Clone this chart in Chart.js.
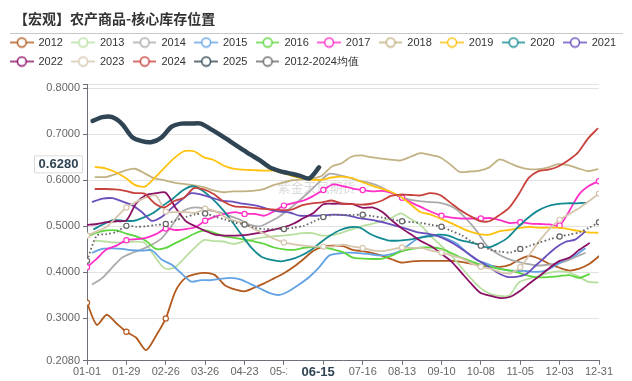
<!DOCTYPE html>
<html><head><meta charset="utf-8">
<script src="https://cdn.jsdelivr.net/npm/chart.js@4.4.1/dist/chart.umd.min.js"></script>
<style>html,body{margin:0;padding:0;background:#fff}</style>
</head><body>
<canvas id="c" width="632" height="381"></canvas>
<script>
// ---- data ----
const tickDays   = [0,28,56,84,112,140,168,196,224,252,280,308,336,364];
const tickLabels = ['01-01','01-29','02-26','03-26','04-23','05-21','06-18','07-16','08-13','09-10','10-08','11-05','12-03','12-31'];
const yTickValues = [0.208,0.3,0.4,0.5,0.6,0.7,0.8];
const seriesNames = ['2012','2013','2014','2015','2016','2017','2018','2019','2020','2021','2022','2023','2024','2025','2012-2024均值'];
// first weekly observation (day of year, 0 = 01-01)
const startDays = [0,6,4,4,0,0,6,6,5,4,0,0,6,4,0];
const pointerDay = 165;      // 06-15
const pointerDayLabel = '06-15';
const pointerValue = 0.628;  // latest 2025 value

const s2012 = [0.334,0.286,0.308,0.289,0.271,0.258,0.231,0.262,0.300,0.360,0.388,0.396,0.399,0.394,0.372,0.363,0.359,0.367,0.376,0.387,0.398,0.412,0.429,0.447,0.456,0.458,0.457,0.449,0.446,0.442,0.436,0.428,0.421,0.424,0.425,0.425,0.425,0.425,0.423,0.419,0.414,0.414,0.412,0.417,0.429,0.436,0.429,0.418,0.410,0.404,0.408,0.418,0.435];
const s2013 = [0.469,0.467,0.465,0.465,0.467,0.464,0.435,0.409,0.410,0.430,0.452,0.470,0.468,0.467,0.462,0.467,0.472,0.476,0.478,0.480,0.482,0.485,0.485,0.480,0.481,0.486,0.493,0.500,0.505,0.511,0.518,0.528,0.516,0.503,0.480,0.460,0.440,0.415,0.390,0.368,0.354,0.349,0.349,0.378,0.386,0.392,0.399,0.402,0.400,0.392,0.380,0.378];
const s2014 = [0.374,0.388,0.411,0.432,0.442,0.450,0.460,0.474,0.500,0.530,0.540,0.540,0.534,0.530,0.522,0.514,0.503,0.500,0.510,0.522,0.538,0.556,0.575,0.596,0.614,0.611,0.606,0.599,0.595,0.588,0.577,0.566,0.559,0.555,0.553,0.552,0.547,0.536,0.515,0.490,0.459,0.442,0.431,0.424,0.419,0.415,0.416,0.419,0.424,0.433,0.442];
const s2015 = [0.443,0.451,0.452,0.451,0.448,0.447,0.448,0.428,0.417,0.398,0.380,0.383,0.383,0.386,0.388,0.385,0.375,0.365,0.355,0.351,0.360,0.374,0.390,0.411,0.436,0.441,0.443,0.442,0.440,0.437,0.438,0.444,0.458,0.473,0.480,0.480,0.473,0.462,0.443,0.427,0.419,0.410,0.405,0.403,0.403,0.401,0.404,0.415,0.428,0.437,0.452];
const s2016 = [0.478,0.486,0.491,0.491,0.484,0.478,0.468,0.451,0.453,0.464,0.474,0.485,0.491,0.485,0.478,0.475,0.471,0.467,0.462,0.454,0.450,0.449,0.453,0.455,0.455,0.450,0.444,0.432,0.430,0.429,0.430,0.437,0.446,0.451,0.454,0.454,0.451,0.442,0.432,0.424,0.417,0.412,0.407,0.404,0.398,0.392,0.389,0.390,0.392,0.394,0.388,0.396];
const s2017 = [0.411,0.430,0.450,0.458,0.470,0.472,0.475,0.483,0.495,0.492,0.494,0.498,0.512,0.521,0.527,0.531,0.527,0.527,0.523,0.533,0.545,0.551,0.556,0.566,0.579,0.591,0.587,0.582,0.579,0.576,0.577,0.572,0.562,0.551,0.541,0.531,0.523,0.519,0.517,0.517,0.517,0.518,0.513,0.507,0.509,0.506,0.505,0.504,0.502,0.534,0.570,0.588,0.598];
const s2018 = [0.607,0.607,0.613,0.621,0.625,0.615,0.604,0.600,0.595,0.592,0.589,0.585,0.578,0.574,0.576,0.576,0.577,0.580,0.589,0.595,0.600,0.602,0.604,0.610,0.630,0.637,0.651,0.654,0.650,0.647,0.645,0.643,0.651,0.659,0.655,0.650,0.635,0.618,0.619,0.621,0.628,0.645,0.638,0.629,0.624,0.624,0.628,0.635,0.633,0.626,0.620,0.624];
const s2019 = [0.629,0.626,0.618,0.606,0.590,0.586,0.605,0.627,0.648,0.663,0.663,0.650,0.644,0.632,0.625,0.623,0.622,0.621,0.621,0.616,0.609,0.604,0.601,0.601,0.606,0.608,0.605,0.597,0.589,0.582,0.575,0.564,0.548,0.531,0.526,0.517,0.508,0.498,0.489,0.483,0.482,0.489,0.492,0.496,0.499,0.497,0.497,0.497,0.494,0.490,0.487,0.486];
const s2020 = [0.494,0.505,0.514,0.512,0.512,0.519,0.529,0.545,0.560,0.578,0.587,0.578,0.560,0.538,0.511,0.481,0.453,0.434,0.427,0.424,0.428,0.436,0.448,0.465,0.480,0.492,0.498,0.497,0.484,0.475,0.469,0.469,0.471,0.475,0.478,0.482,0.480,0.471,0.466,0.461,0.454,0.462,0.475,0.497,0.517,0.533,0.543,0.548,0.550,0.550,0.551];
const s2021 = [0.553,0.560,0.561,0.554,0.546,0.531,0.512,0.520,0.539,0.557,0.572,0.569,0.563,0.556,0.554,0.550,0.547,0.543,0.536,0.532,0.530,0.523,0.523,0.523,0.525,0.525,0.523,0.518,0.515,0.511,0.506,0.500,0.494,0.487,0.484,0.479,0.470,0.458,0.443,0.428,0.415,0.401,0.391,0.390,0.396,0.415,0.434,0.453,0.466,0.471,0.488];
const s2022 = [0.503,0.505,0.509,0.511,0.513,0.550,0.568,0.572,0.573,0.540,0.512,0.500,0.490,0.482,0.480,0.480,0.481,0.484,0.488,0.493,0.498,0.506,0.518,0.529,0.548,0.549,0.549,0.548,0.540,0.541,0.531,0.512,0.495,0.481,0.467,0.456,0.440,0.424,0.400,0.376,0.355,0.349,0.344,0.347,0.360,0.377,0.393,0.410,0.425,0.432,0.449,0.463];
const s2023 = [0.480,0.489,0.499,0.520,0.541,0.553,0.563,0.567,0.532,0.531,0.531,0.529,0.538,0.533,0.520,0.512,0.505,0.494,0.484,0.473,0.465,0.461,0.458,0.456,0.456,0.456,0.460,0.456,0.453,0.448,0.446,0.450,0.454,0.453,0.453,0.447,0.443,0.437,0.431,0.420,0.412,0.408,0.400,0.398,0.411,0.440,0.470,0.495,0.514,0.527,0.540,0.555,0.571];
const s2024 = [0.581,0.581,0.580,0.577,0.572,0.571,0.550,0.541,0.555,0.562,0.583,0.580,0.570,0.554,0.544,0.542,0.540,0.538,0.537,0.535,0.537,0.546,0.550,0.552,0.556,0.550,0.548,0.547,0.549,0.555,0.566,0.569,0.568,0.567,0.572,0.568,0.552,0.536,0.523,0.512,0.511,0.524,0.540,0.570,0.605,0.620,0.623,0.630,0.643,0.660,0.690,0.712];
const s2025 = [0.729,0.737,0.737,0.722,0.694,0.685,0.683,0.693,0.716,0.723,0.723,0.723,0.711,0.698,0.684,0.670,0.656,0.643,0.628,0.620,0.615,0.610,0.604,0.628];
const sAvg  = [0.425,0.480,0.483,0.488,0.501,0.499,0.500,0.503,0.505,0.513,0.520,0.526,0.528,0.521,0.515,0.508,0.504,0.497,0.494,0.494,0.494,0.497,0.501,0.510,0.520,0.525,0.525,0.525,0.525,0.522,0.519,0.515,0.511,0.509,0.507,0.503,0.499,0.490,0.481,0.468,0.458,0.449,0.445,0.443,0.451,0.458,0.465,0.472,0.478,0.482,0.487,0.497,0.509];

const seriesValues = [s2012,s2013,s2014,s2015,s2016,s2017,s2018,s2019,s2020,s2021,s2022,s2023,s2024,s2025,sAvg];

// ---- styles ----
const colors = ['#b35a1f','#b9dfa0','#aaaaaa','#63a3e3','#5cd63c','#ff2fc8','#c2b283','#ffc20e','#138a92','#6a4fbc','#8b1066','#d6c6ad','#c8423d','#2f4554','#666666'];
const lineWidths = [1.8,1.8,1.8,1.8,1.8,1.8,1.8,1.8,1.8,1.8,1.8,1.8,1.8,4.5,1.8];
const markerTicks = [3,0,0,0,0,99,0,0,0,0,0,99,0,0,99];
const legendPerRow = 10;

function legendIcon(color){
  const c = document.createElement('canvas');
  c.width = 24; c.height = 12;
  const g = c.getContext('2d');
  g.strokeStyle = color; g.lineWidth = 1.5;
  g.beginPath(); g.moveTo(0,6); g.lineTo(24,6); g.stroke();
  g.fillStyle = '#fff';
  g.beginPath(); g.arc(12,6,4.5,0,Math.PI*2); g.fill(); g.stroke();
  return c;
}
const icons = colors.map(legendIcon);

const n = seriesNames.length;
const datasets = seriesNames.map((name,i)=>({
  label: name,
  data: seriesValues[i].map((v,k)=>({x: startDays[i] + 7*k, y: v})),
  borderColor: colors[i],
  backgroundColor: colors[i],
  borderWidth: lineWidths[i],
  borderDash: i === n-1 ? [1.6,2.4] : [],
  borderJoinStyle: 'round',
  borderCapStyle: i === n-1 ? 'butt' : 'round',
  tension: 0.25,
  fill: false,
  order: n - i,
  pointRadius: (ctx)=>{ const k = ctx.dataIndex; return (markerTicks[i] && k % 4 === 0 && k/4 < markerTicks[i]) ? 2.6 : 0; },
  pointBackgroundColor: '#fff',
  pointBorderColor: colors[i],
  pointBorderWidth: 1.2
}));

const decor = {
  id: 'decor',
  beforeDatasetsDraw(chart){
    const {ctx, chartArea: a} = chart;
    ctx.save();
    ctx.font = '13px "Noto Sans CJK SC"';
    ctx.fillStyle = 'rgba(150,150,150,0.35)';
    ctx.textAlign = 'center'; ctx.textBaseline = 'middle';
    ctx.fillText('紫金天风期货', a.left + (a.right - a.left)*0.448, a.top + (a.bottom - a.top)*0.373);
    ctx.restore();
  },
  afterDraw(chart){
    const {ctx} = chart;
    ctx.save();
    // title
    ctx.font = 'bold 14px "Noto Sans CJK SC"';
    ctx.fillStyle = '#333';
    ctx.textAlign = 'left'; ctx.textBaseline = 'middle';
    ctx.fillText('【宏观】农产商品-核心库存位置', 14, 19);
    ctx.strokeStyle = '#c8c8c8'; ctx.lineWidth = 1;
    ctx.beginPath(); ctx.moveTo(10, 33.5); ctx.lineTo(623, 33.5); ctx.stroke();
    // legend
    ctx.font = '11px "Liberation Sans"';
    ctx.fillStyle = '#333';
    let lx = 10, row = 0;
    seriesNames.forEach((name,i)=>{
      if (i === legendPerRow) { lx = 10; row = 1; }
      const ly = 42.5 + row*19;
      ctx.drawImage(icons[i], lx, ly - 6, 23.5, 12);
      ctx.fillText(name, lx + 28.5, ly);
      lx += 28.5 + ctx.measureText(name).width + 8.5;
    });
    // axis pointer labels
    const xs = chart.scales.x, ys = chart.scales.y;
    const px = xs.getPixelForValue(pointerDay);
    const py = ys.getPixelForValue(pointerValue) - 3;
    ctx.font = 'bold 13px "Liberation Sans"';
    ctx.textAlign = 'center';
    ctx.fillStyle = '#fff';
    ctx.fillRect(px - 32, xs.top + 4, 61, 17);
    ctx.fillStyle = '#2f4554';
    ctx.fillText(pointerDayLabel, px - 1, xs.top + 12);
    ctx.fillStyle = '#fff';
    ctx.strokeStyle = '#dcdcdc';
    ctx.beginPath(); ctx.rect(34.5, py - 8.5, 48, 17); ctx.fill(); ctx.stroke();
    ctx.fillStyle = '#2f4554';
    ctx.fillText(pointerValue.toFixed(4), 58.5, py);
    ctx.restore();
  }
};

new Chart(document.getElementById('c'), {
  type: 'line',
  data: { datasets },
  options: {
    responsive: false,
    animation: false,
    events: [],
    layout: { padding: { top: 84, left: 2, right: 33, bottom: 1 } },
    plugins: {
      title: { display: false },
      tooltip: { enabled: false },
      legend: { display: false }
    },
    scales: {
      x: {
        type: 'linear', min: 0, max: 364,
        afterBuildTicks: (s)=>{ s.ticks = tickDays.map(v=>({value:v})); },
        ticks: {
          autoSkip: false, maxRotation: 0, padding: 1,
          color: '#666', font: { size: 11, family: '"Liberation Sans"' },
          callback: (v)=>{ const i = tickDays.indexOf(v); return i >= 0 ? tickLabels[i] : ''; }
        },
        grid: { drawOnChartArea: false, drawTicks: true, tickLength: 4, color: '#6e7079' },
        border: { color: '#6e7079', width: 1 }
      },
      y: {
        type: 'linear', min: 0.208, max: 0.809,
        afterBuildTicks: (s)=>{ s.ticks = yTickValues.concat([s.max]).map(v=>({value:v})); },
        afterFit: (s)=>{ s.width = 85; },
        ticks: {
          padding: 3, color: '#666', font: { size: 11, family: '"Liberation Sans"' },
          callback: (v)=> yTickValues.includes(v) ? v.toFixed(4) : ''
        },
        grid: { color: '#e3e3e3', drawTicks: true, tickLength: 4, tickColor: '#6e7079' },
        border: { color: '#6e7079', width: 1 }
      }
    }
  },
  plugins: [decor]
});
</script>
</body></html>
